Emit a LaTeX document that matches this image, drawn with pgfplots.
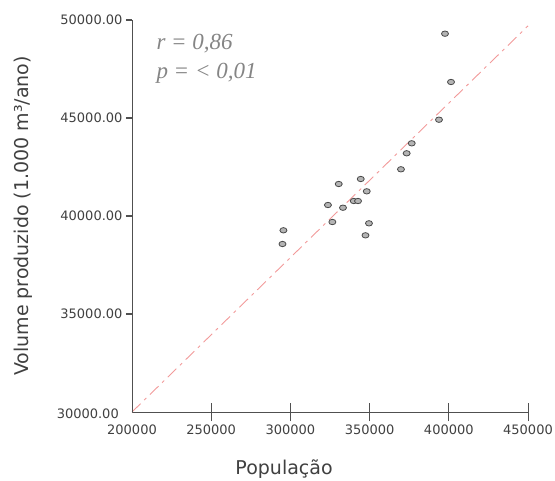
\documentclass[border=0pt]{standalone}
\usepackage{fontspec}
\setmainfont{DejaVu Sans}
\newfontfamily\serifit{Liberation Serif}
\usepackage{pgfplots}
\pgfplotsset{compat=1.18}
\definecolor{axgray}{HTML}{505050}
\definecolor{lblgray}{HTML}{404040}
\definecolor{annot}{HTML}{858585}
\definecolor{mkfill}{HTML}{B4B4B4}
\definecolor{mkdraw}{HTML}{4A4A4A}
\definecolor{fitline}{HTML}{F29A9A}
\pgfplotsset{
  commonax/.style={
    scale only axis,
    width=396pt, height=392pt,
    xmin=200000, xmax=450000,
    ymin=30000, ymax=50000,
    scaled ticks=false,
    axis line style={axgray, line width=0.9pt, -},
    major tick style={draw=axgray, line width=1pt},
    tick label style={font=\fontsize{13}{15}\selectfont, text=lblgray},
    clip=false,
  }
}
\begin{document}
\begin{tikzpicture}
\path[use as bounding box] (-132pt,-68pt) rectangle (423pt,412pt);
\begin{axis}[
  commonax,
  axis y line=none,
  axis x line*=bottom,
  xtick={250000,300000,350000,400000,450000},
  xticklabels={250000,300000,350000,400000,450000},
  tick align=center,
  major tick length=18pt,
]
\addplot[fitline, line width=0.9pt, dash pattern=on 12pt off 5pt on 3pt off 5pt] coordinates {(200000,30000) (450000,49700)};
\addplot[only marks, mark=*, mark size=2.7pt, mark options={xscale=1.3, fill=mkfill, draw=mkdraw, line width=0.8pt}] coordinates {
(397600,49301)
(401400,46837)
(393800,44913)
(376600,43709)
(373400,43199)
(369800,42383)
(344400,41888)
(330500,41633)
(348200,41260)
(323700,40561)
(340000,40765)
(342700,40765)
(333200,40423)
(326500,39694)
(349600,39627)
(347400,39015)
(295600,39270)
(295000,38571)
};
% tick marks
\draw[axgray, line width=1pt] ([yshift=-9pt]axis cs:250000,30000) -- ([yshift=9pt]axis cs:250000,30000);
\draw[axgray, line width=1pt] ([yshift=-9pt]axis cs:300000,30000) -- ([yshift=9pt]axis cs:300000,30000);
\draw[axgray, line width=1pt] ([yshift=-9pt]axis cs:350000,30000) -- ([yshift=9pt]axis cs:350000,30000);
\draw[axgray, line width=1pt] ([yshift=-9pt]axis cs:400000,30000) -- ([yshift=9pt]axis cs:400000,30000);
\draw[axgray, line width=1pt] ([yshift=-9pt]axis cs:450000,30000) -- ([yshift=9pt]axis cs:450000,30000);
\draw[axgray, line width=1pt] ([xshift=-6pt]axis cs:200000,35000) -- (axis cs:200000,35000);
\draw[axgray, line width=1pt] ([xshift=-6pt]axis cs:200000,40000) -- (axis cs:200000,40000);
\draw[axgray, line width=1pt] ([xshift=-6pt]axis cs:200000,45000) -- (axis cs:200000,45000);
\draw[axgray, line width=1pt] ([xshift=-6pt]axis cs:200000,50000) -- (axis cs:200000,50000);
\node[anchor=base west, text=annot, font=\serifit\itshape\fontsize{23}{26}\selectfont] at (axis description cs:0.053,0.9235) {r = 0,86};
\node[anchor=base west, text=annot, font=\serifit\itshape\fontsize{23}{26}\selectfont] at (axis description cs:0.053,0.852) {p = < 0,01};
\node[anchor=center, text=lblgray, font=\fontsize{19}{22}\selectfont] at (axis description cs:0.384,-0.145) {População};
\node[anchor=center, rotate=90, text=lblgray, font=\fontsize{19}{22}\selectfont] at (axis description cs:-0.275,0.5) {Volume produzido (1.000 m³/ano)};
\node[anchor=north, text=lblgray, font=\fontsize{13}{15}\selectfont, inner sep=2pt] at (axis description cs:0,0) [yshift=-11pt] {200000};
\node[anchor=east, text=lblgray, font=\fontsize{13}{15}\selectfont, inner sep=2pt] at (axis description cs:0,0) [xshift=-11pt, yshift=-2pt] {30000.00};
\end{axis}
\begin{axis}[
  commonax,
  axis x line=none,
  axis y line*=left,
  ytick={35000,40000,45000,50000},
  yticklabels={35000.00,40000.00,45000.00,50000.00},
  tick align=outside,
  major tick length=6pt,
]
\end{axis}
\end{tikzpicture}
\end{document}
